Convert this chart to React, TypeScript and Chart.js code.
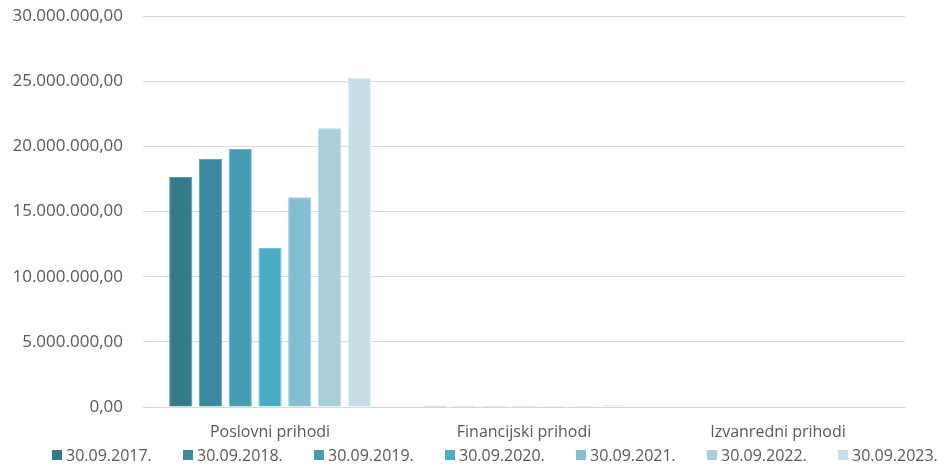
import React, { useEffect, useRef } from "react";
import { Chart, registerables } from "chart.js";

Chart.register(...registerables);

const categories = ["Poslovni prihodi", "Financijski prihodi", "Izvanredni prihodi"];
const seriesLabels = ["30.09.2017.", "30.09.2018.", "30.09.2019.", "30.09.2020.", "30.09.2021.", "30.09.2022.", "30.09.2023."];
const v2017 = [17650000, 80000, 0];
const v2018 = [19030000, 80000, 0];
const v2019 = [19800000, 80000, 0];
const v2020 = [12200000, 75000, 0];
const v2021 = [16100000, 75000, 0];
const v2022 = [21400000, 75000, 0];
const v2023 = [25300000, 160000, 0];
const seriesValues = [v2017, v2018, v2019, v2020, v2021, v2022, v2023];
const colors = ["#337a8a", "#3b8aa0", "#449db5", "#4aadc6", "#83bed1", "#a9cfdd", "#c6dfe7"];
const borders = ["#5f97a5", "#66a5b6", "#6db3c6", "#74c0d3", "#a0cedc", "#c0dde7", "#d9eaf0"];

function fmt(v: number): string {
  const s = Math.round(v).toString().replace(/\B(?=(\d{3})+(?!\d))/g, ".");
  return s + ",00";
}

export default function App() {
  const ref = useRef<HTMLCanvasElement | null>(null);
  useEffect(() => {
    document.body.style.margin = "0";
    const ctx = ref.current!;
    const chart = new Chart(ctx, {
      type: "bar",
      data: {
        labels: categories,
        datasets: seriesLabels.map((l, i) => ({
          label: l,
          data: seriesValues[i],
          backgroundColor: colors[i],
          borderColor: borders[i],
          borderWidth: 1,
          categoryPercentage: 0.82,
          barPercentage: 0.78,
        })),
      },
      options: {
        responsive: false,
        animation: false,
        layout: { padding: { left: 0, right: 0, top: 6, bottom: 24 } },
        plugins: {
          tooltip: { enabled: false },
          legend: { display: false },
        },
        scales: {
          x: {
            grid: { display: false, drawTicks: false },
            border: { color: "#d9d9d9", width: 1 },
            afterFit: (s: any) => { s.height = 40; },
            ticks: {
              color: "#595959",
              padding: 16,
              font: { family: "'Open Sans', sans-serif", size: 16 },
            },
          },
          y: {
            min: 0,
            max: 30000000,
            afterFit: (s: any) => { s.width = 143; },
            grid: { color: "#d9d9d9", drawTicks: false },
            border: { display: false },
            ticks: {
              stepSize: 5000000,
              padding: 20,
              color: "#595959",
              font: { family: "'Open Sans', sans-serif", size: 17 },
              callback: (v: any) => fmt(Number(v)),
            },
          },
          yr: {
            position: "right",
            display: true,
            afterFit: (s: any) => { s.width = 41; },
            grid: { display: false, drawTicks: false },
            border: { display: false },
            ticks: { display: false },
          },
        },
      },
    });
    return () => chart.destroy();
  }, []);
  return (
    <div style={{ position: "relative", width: 946, height: 471, overflow: "hidden" }}>
      <canvas ref={ref} width={946} height={485} style={{ display: "block", marginTop: -14 }} />
      <div
        style={{
          position: "absolute",
          left: 52,
          top: 444,
          display: "flex",
          fontFamily: "'Open Sans', sans-serif",
          fontSize: 16,
          lineHeight: "22px",
          color: "#595959",
          whiteSpace: "nowrap",
        }}
      >
        {seriesLabels.map((l, i) => (
          <div key={l} style={{ width: 131, display: "flex", alignItems: "center" }}>
            <span style={{ display: "inline-block", width: 10, height: 10, background: colors[i], marginRight: 4 }} />
            <span>{l}</span>
          </div>
        ))}
      </div>
    </div>
  );
}
